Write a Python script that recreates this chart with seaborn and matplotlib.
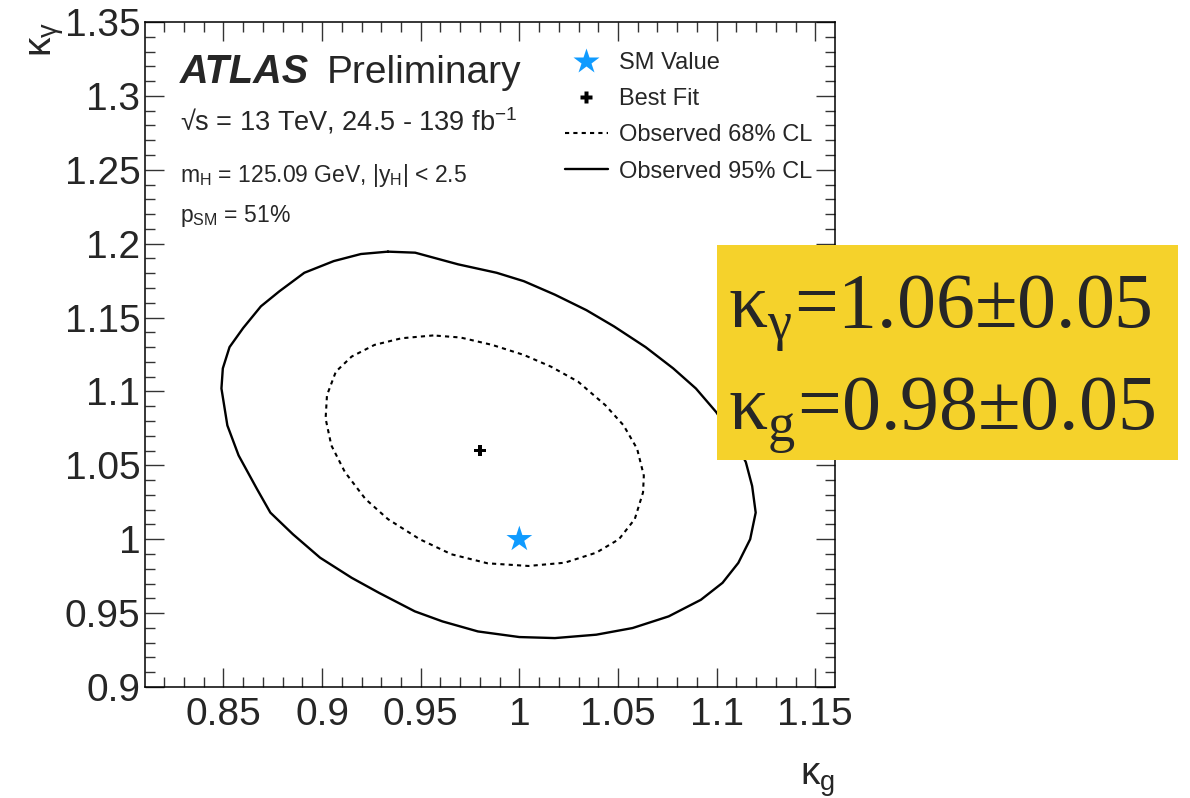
import numpy as np
import pandas as pd
import matplotlib
matplotlib.use("Agg")
import matplotlib.pyplot as plt
from matplotlib.lines import Line2D
from matplotlib.patches import Rectangle
import seaborn as sns

# Observed 95% CL contour (kappa_g, kappa_gamma), closed path
cl95_kg = [0.9334, 0.9472, 0.969, 0.9885, 1.0023, 1.018, 1.034, 1.048, 1.064, 1.078,
           1.0895, 1.0998, 1.1077, 1.1148, 1.118, 1.1198, 1.117, 1.111, 1.103, 1.092,
           1.0757, 1.0574, 1.039, 1.018, 1.0, 0.979, 0.961, 0.947, 0.9289, 0.915,
           0.899, 0.8852, 0.8738, 0.867, 0.8577, 0.852, 0.849, 0.8497, 0.8531, 0.860,
           0.869, 0.8784, 0.891, 0.9059, 0.9197, 0.9334]
cl95_kgam = [1.1946, 1.1939, 1.186, 1.1803, 1.1746, 1.1655, 1.155, 1.144, 1.130, 1.1156,
             1.102, 1.086, 1.0703, 1.0522, 1.036, 1.018, 1.0, 0.984, 0.9705, 0.959,
             0.9478, 0.9399, 0.9354, 0.9331, 0.9338, 0.9376, 0.9444, 0.9512, 0.9637, 0.9739,
             0.9875, 1.0034, 1.018, 1.034, 1.0567, 1.077, 1.102, 1.1156, 1.130, 1.1429,
             1.1576, 1.1678, 1.1803, 1.1882, 1.193, 1.1946]

# Observed 68% CL contour
cl68_kg = [0.9564, 0.9403, 0.9266, 0.915, 0.907, 0.9025, 0.9018, 0.9047, 0.9116, 0.922,
           0.9334, 0.9495, 0.9656, 0.9839, 1.0046, 1.023, 1.039, 1.0505, 1.0585, 1.0627,
           1.0631, 1.0597, 1.0528, 1.0436, 1.0298, 1.016, 1.0023, 0.9862, 0.9702, 0.9564]
cl68_kgam = [1.1379, 1.136, 1.1315, 1.1236, 1.1134, 1.0975, 1.0816, 1.0635, 1.0454, 1.0272,
             1.0136, 1.0, 0.9898, 0.9837, 0.9819, 0.9841, 0.9909, 1.0, 1.0136, 1.0317,
             1.043, 1.0612, 1.0771, 1.0907, 1.1066, 1.1168, 1.1247, 1.1315, 1.1365, 1.1379]

best_fit = (0.98, 1.06)
sm_value = (1.0, 1.0)

x_ticks = [0.85, 0.9, 0.95, 1.0, 1.05, 1.1, 1.15]
x_ticklabels = ["0.85", "0.9", "0.95", "1", "1.05", "1.1", "1.15"]
y_ticks = [0.9, 0.95, 1.0, 1.05, 1.1, 1.15, 1.2, 1.25, 1.3, 1.35]
y_ticklabels = ["0.9", "0.95", "1", "1.05", "1.1", "1.15", "1.2", "1.25", "1.3", "1.35"]

legend_labels = ["SM Value", "Best Fit", "Observed 68% CL", "Observed 95% CL"]
summary_lines = ["κ$_\\mathregular{γ}$=1.06±0.05", "κ$_\\mathregular{g}$=0.98±0.05"]

sns.set_style("ticks")
plt.rcParams["font.family"] = ["Liberation Sans", "DejaVu Sans"]
plt.rcParams["axes.linewidth"] = 1.1

W, H = 1190, 798
fig = plt.figure(figsize=(W / 100, H / 100), dpi=100)
fig.patch.set_facecolor("white")
ax = fig.add_axes([144.5 / W, 1 - 687 / H, (835 - 144.5) / W, (687 - 22) / H])

df95 = pd.DataFrame({"kg": cl95_kg, "kgam": cl95_kgam})
df68 = pd.DataFrame({"kg": cl68_kg, "kgam": cl68_kgam})

sns.lineplot(data=df95, x="kg", y="kgam", sort=False, estimator=None, ax=ax,
             color="black", linewidth=1.7)
sns.lineplot(data=df68, x="kg", y="kgam", sort=False, estimator=None, ax=ax,
             color="black", linewidth=1.5, dashes=False)
ax.lines[-1].set_dashes((2.0, 2.0))

sns.scatterplot(x=[best_fit[0]], y=[best_fit[1]], marker="P", s=70, color="black",
                edgecolor="none", ax=ax, zorder=5)
sns.scatterplot(x=[sm_value[0]], y=[sm_value[1]], marker="*", s=380, color="#0f9bff",
                edgecolor="none", ax=ax, zorder=5)

ax.set_xlim(0.81, 1.16)
ax.set_ylim(0.9, 1.35)
ax.set_xticks(x_ticks)
ax.set_xticklabels(x_ticklabels)
ax.set_yticks(y_ticks)
ax.set_yticklabels(y_ticklabels)
ax.set_xticks(np.arange(0.82, 1.16, 0.01), minor=True)
ax.set_yticks(np.arange(0.9, 1.351, 0.01), minor=True)
ax.tick_params(which="both", direction="in", top=True, right=True, width=1.0,
               color="#333333", labelsize=28)
ax.tick_params(which="major", length=14)
ax.tick_params(which="minor", length=7)
ax.tick_params(axis="y", pad=3)
ax.tick_params(axis="x", pad=7)
for s in ax.spines.values():
    s.set_color("black")

ax.set_xlabel("κ$_\\mathregular{g}$", fontsize=28, loc="right")
ax.xaxis.set_label_coords(1.0, -0.112)
ax.set_ylabel("κ$_\\mathregular{γ}$", fontsize=28, loc="top")
ax.yaxis.set_label_coords(-0.113, 1.0)

# Experiment labels
fig.text(180 / W, 1 - 83 / H, "ATLAS", fontsize=28.5, fontweight="bold", fontstyle="italic",
         va="baseline", ha="left")
fig.text(327 / W, 1 - 83 / H, "Preliminary", fontsize=28, va="baseline", ha="left")
fig.text(180 / W, 1 - 130 / H, "√s = 13 TeV, 24.5 - 139 fb$^\\mathregular{-1}$",
         fontsize=19.5, va="baseline", ha="left")
fig.text(180 / W, 1 - 182 / H, "m$_\\mathregular{H}$ = 125.09 GeV, |y$_\\mathregular{H}$| < 2.5",
         fontsize=16.5, va="baseline", ha="left")
fig.text(180 / W, 1 - 222 / H, "p$_\\mathregular{SM}$ = 51%",
         fontsize=16.5, va="baseline", ha="left")

handles = [
    Line2D([], [], linestyle="none", marker="*", markersize=19, color="#0f9bff",
           markeredgecolor="none"),
    Line2D([], [], linestyle="none", marker="P", markersize=8, color="black",
           markeredgecolor="none"),
    Line2D([], [], color="black", linewidth=1.5, dashes=(2.0, 2.0)),
    Line2D([], [], color="black", linewidth=1.7),
]
fig.legend(handles, legend_labels, loc="upper left",
           bbox_to_anchor=(565 / W, 1 - 52 / H), frameon=False, fontsize=17,
           handlelength=1.8, handletextpad=0.5, labelspacing=0.6,
           borderpad=0, borderaxespad=0)

# Highlighted fit results
fig.patches.append(Rectangle((717 / W, 1 - 460 / H), (1178 - 717) / W, (460 - 245) / H,
                             transform=fig.transFigure, facecolor="#f5d22b",
                             edgecolor="none", zorder=10))
fig.text(728 / W, 1 - 328 / H, summary_lines[0], fontsize=56, va="baseline", ha="left",
         family=["Liberation Serif", "DejaVu Serif"], zorder=11)
fig.text(728 / W, 1 - 430 / H, summary_lines[1], fontsize=56, va="baseline", ha="left",
         family=["Liberation Serif", "DejaVu Serif"], zorder=11)

fig.savefig("out.png", dpi=100)
